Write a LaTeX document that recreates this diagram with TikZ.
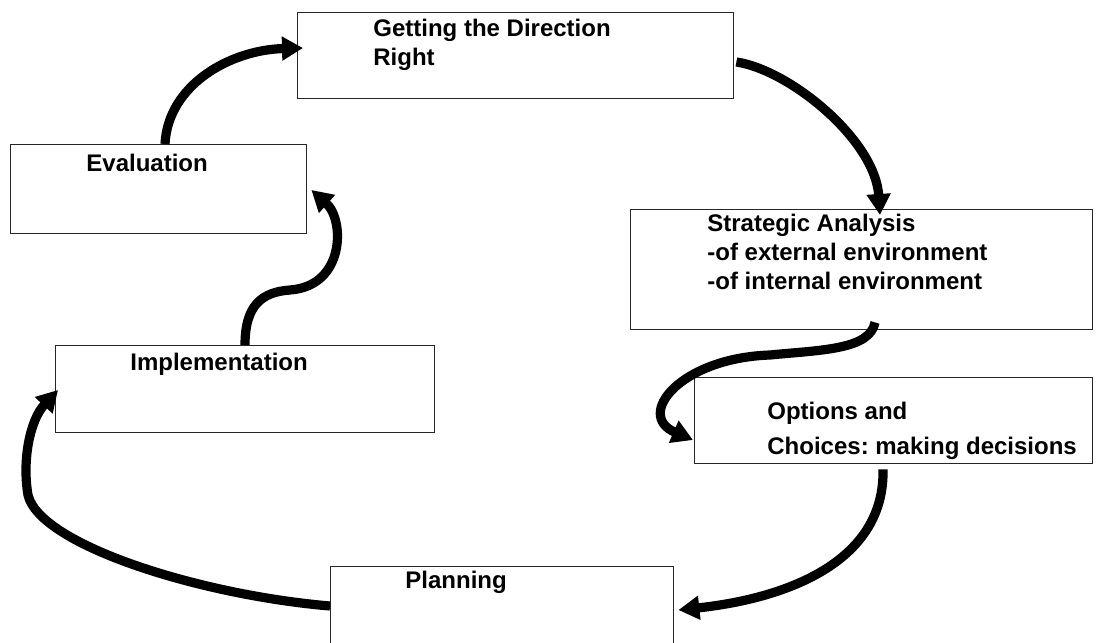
\documentclass[tikz,border=0pt]{standalone}
\usepackage{fontspec}
\setmainfont{Liberation Sans}
\usetikzlibrary{positioning,arrows.meta,calc}
\frenchspacing

\tikzset{
  box/.style={draw=black!85, line width=0.7pt, rectangle, anchor=north west, inner sep=0pt},
  boxtext/.style={font=\bfseries\fontsize{12}{14.5}\selectfont, anchor=base west, align=left, inner sep=0pt},
  cycarrow/.style={line width=4.6pt, -{Triangle[length=10.5pt,width=11.5pt]}}
}

\begin{document}
\begin{tikzpicture}[x=0.5pt,y=-0.5pt]
  \useasboundingbox (0,0) rectangle (1104,643);
  % boxes: name / left / top / width / height (px of the page)
  \foreach \nm/\lx/\ty/\w/\h in {
    dir/297/12/436/86,
    eval/10/144/296/89,
    strat/630/209/462/120,
    opt/694/377/398/86,
    impl/55/345/379/87,
    plan/330/566/343/84} {
    \node[box, minimum width=\w*0.5pt, minimum height=\h*0.5pt] (\nm) at (\lx,\ty) {};
  }
  % texts, placed by the baseline of their last line
  \node[boxtext] (dirtxt) at ($(dir.north west)+(76,53)$) {Getting the Direction\\Right};
  \node[boxtext] (evaltxt) at ($(eval.north west)+(76,27)$) {Evaluation};
  \node[boxtext] (strattxt) at ($(strat.north west)+(77,80)$)
    {Strategic Analysis\\-of external environment\\-of internal environment};
  \node[boxtext] (opttxt) at ($(opt.north west)+(73,77)$) {Options and\\[3pt]Choices: making decisions};
  \node[boxtext] (impltxt) at ($(impl.north west)+(75,25)$) {Implementation};
  \node[boxtext] (plantxt) at ($(plan.north west)+(75,22)$) {Planning};
  % the cycle
  \draw[cycarrow] ($(eval.north west)+(155,0)$) .. controls (168,85) and (230,50)
    .. ($(dir.north west)+(6,36)$);
  \draw[cycarrow] ($(dir.north east)+(2,50)$) .. controls (790,70) and (875,140)
    .. ($(strat.north west)+(250,6)$);
  \draw[cycarrow] ($(strat.south west)+(245,-8)$) .. controls (870,350) and (820,350) .. (770,355)
    .. controls (680,358) and (635,415) .. ($(opt.north west)+(-1,63)$);
  \draw[cycarrow] ($(opt.south west)+(189,5)$) .. controls (885,560) and (790,598)
    .. ($(plan.north east)+(4,44)$);
  \draw[cycarrow] ($(plan.north west)+(0,40)$) .. controls (200,595) and (40,545) .. (28,495)
    .. controls (22,460) and (30,420) .. ($(impl.north west)+(3,45)$);
  \draw[cycarrow] ($(impl.north west)+(190,0)$) .. controls (245,305) and (262,292) .. (290,290)
    .. controls (345,286) and (345,220) .. ($(eval.north east)+(4,46)$);
\end{tikzpicture}
\end{document}
